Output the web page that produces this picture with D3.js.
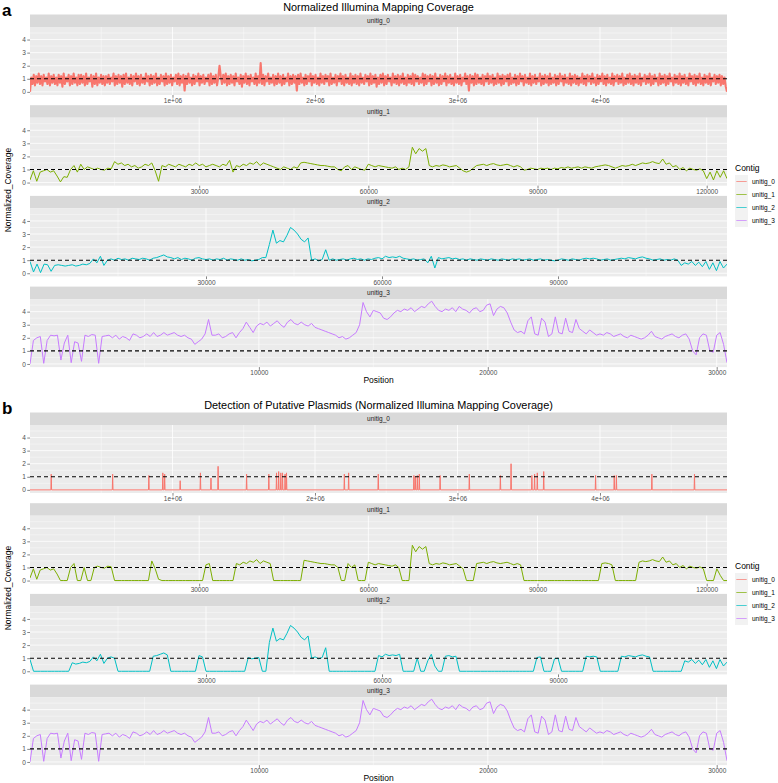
<!DOCTYPE html>
<html><head><meta charset="utf-8">
<script src="https://cdn.jsdelivr.net/npm/d3@7"></script>
<style>body{margin:0;background:#fff} svg{display:block} text{font-family:"Liberation Sans",Arial,Helvetica,sans-serif}</style>
</head><body><svg id="chart" width="778" height="783"></svg>
<script>
// ---------------- DATA ----------------
const contigs = ["unitig_0", "unitig_1", "unitig_2", "unitig_3"];
const contigColors = ["#F8766D", "#7CAE00", "#00BFC4", "#C77CFF"];
const yTicks = [0, 1, 2, 3, 4];
const referenceLevel = 1;

// unitig_0: normalized coverage in 8.75 kb windows
const unitig0Window = 8750;
const unitig0Coverage = [
0.0,1.1,0.6,1.3,0.5,1.2,0.7,1.4,0.6,1.2,0.5,1.3,0.8,1.1,0.6,1.4,0.5,1.2,0.7,1.3,
0.6,1.1,0.5,1.3,0.7,1.2,0.4,1.4,0.6,1.1,0.8,1.3,0.5,1.2,0.6,1.4,0.7,1.1,0.5,1.3,
0.6,1.3,0.7,1.2,0.5,1.4,0.6,1.1,0.8,1.3,0.4,1.2,0.6,1.4,0.5,1.1,0.7,1.3,0.6,1.2,
0.5,1.2,0.7,1.3,0.6,1.1,0.8,1.4,0.5,1.2,0.6,1.3,0.7,1.2,0.4,1.3,0.6,1.4,0.7,1.1,
0.6,1.3,0.5,1.2,0.8,1.4,0.6,1.2,0.5,1.3,0.7,1.1,0.6,1.4,0.8,1.2,0.5,1.3,0.6,1.2,
0.7,1.4,0.5,1.1,0.6,1.3,0.8,1.2,0.5,1.4,0.6,1.2,0.7,1.3,0.5,1.1,0.8,1.3,0.6,1.4,
0.5,1.2,0.7,1.3,0.1,1.2,0.6,1.4,0.7,1.1,0.5,1.3,0.6,1.2,0.8,1.4,0.5,1.2,0.7,1.3,
0.6,1.1,0.8,1.3,0.5,1.4,0.6,1.2,0.7,1.3,0.5,1.1,2.0,1.2,0.6,1.3,0.7,1.4,0.5,1.2,
0.6,1.3,0.7,1.2,0.5,1.4,0.8,1.1,0.6,1.3,0.4,1.2,0.7,1.4,0.6,1.2,0.5,1.3,0.8,1.1,
0.6,1.4,0.5,1.2,0.7,2.2,0.6,1.3,0.5,1.2,0.8,1.4,0.6,1.1,0.7,1.3,0.5,1.2,0.6,1.4,
0.7,1.2,0.5,1.3,0.6,1.1,0.8,1.4,0.5,1.2,0.6,1.3,0.7,1.2,0.1,1.3,0.6,1.4,0.7,1.1,
0.5,1.3,0.6,1.2,0.8,1.4,0.5,1.2,0.7,1.3,0.6,1.1,0.5,1.4,0.7,1.2,0.6,1.3,0.8,1.2,
0.5,1.4,0.6,1.1,0.7,1.3,0.5,1.2,0.8,1.4,0.6,1.2,0.5,1.3,0.7,1.1,0.6,1.4,0.5,1.2,
0.7,1.3,0.6,1.2,0.5,1.4,0.7,1.1,0.6,1.3,0.8,1.2,0.5,1.4,0.6,1.2,0.7,1.3,0.4,1.1,
0.6,1.3,0.7,1.4,0.5,1.2,0.6,1.3,0.8,1.1,0.5,1.4,0.7,1.2,0.6,1.3,0.5,1.2,0.7,1.4,
0.6,1.1,0.5,1.3,0.7,1.2,0.6,1.4,0.5,1.3,0.8,1.2,0.6,1.1,0.7,1.4,0.5,1.3,0.6,1.2,
0.8,1.3,0.5,1.2,0.6,1.4,0.7,1.1,0.5,1.3,0.6,1.2,0.8,1.4,0.5,1.2,0.7,1.3,0.6,1.1,
0.5,1.4,0.7,1.2,0.6,1.3,0.5,1.1,0.8,1.4,0.6,1.2,0.1,1.3,0.7,1.2,0.5,1.4,0.6,1.3,
0.7,1.1,0.6,1.3,0.5,1.2,0.8,1.4,0.6,1.2,0.7,1.3,0.5,1.1,0.6,1.4,0.7,1.2,0.5,1.3,
0.6,1.2,0.8,1.3,0.5,1.4,0.6,1.1,0.7,1.3,0.5,1.2,0.6,1.4,0.8,1.2,0.5,1.3,0.7,1.1,
0.6,1.4,0.5,1.2,0.7,1.3,0.6,1.1,0.8,1.4,0.5,1.2,0.6,1.3,0.7,1.2,0.5,1.4,0.6,1.1,
0.7,1.3,0.5,1.2,0.6,1.4,0.8,1.2,0.5,1.3,0.7,1.1,0.6,1.4,0.5,1.2,0.7,1.3,0.6,1.2,
0.5,1.1,0.7,1.4,0.6,1.2,0.5,1.3,0.8,1.2,0.6,1.4,0.7,1.1,0.5,1.3,0.6,1.2,0.8,1.4,
0.6,1.2,0.5,1.3,0.7,1.1,0.6,1.4,0.5,1.2,0.8,1.3,0.6,1.2,0.7,1.4,0.5,1.1,0.6,1.3,
0.7,1.4,0.6,1.2,0.5,1.3,0.7,1.2,0.6,1.4,0.5,1.1,0.8,1.3,0.6,1.2,0.7,1.4,0.5,1.2,
0.6,1.3,0.8,1.1,0.5,1.4,0.6,1.2,0.7,1.3,0.5,1.2,0.6,1.4,0.8,1.1,0.5,1.3,0.7,1.2,
0.6,1.4,0.5,1.2,0.7,1.3,0.6,1.1,0.5,1.4,0.8,1.2,0.6,1.3,0.5,1.2,0.7,1.4,0.6,1.1,
0.5,1.3,0.7,1.2,0.6,1.4,0.5,1.1,0.8,1.3,0.6,1.2,0.7,1.3,0.5,1.2,0.6,1.1,0.4,0.0
];

// unitig_1: normalized coverage in 600 bp windows
const unitig1Window = 600;
const unitig1Coverage = [
0.2,0.9,0.1,0.8,0.9,1.0,0.8,0.9,0.5,0.05,
0.45,0.4,1.0,1.3,0.8,1.4,1.0,1.2,1.1,1.0,
1.1,1.0,0.95,1.1,1.05,1.6,1.4,1.5,1.3,1.4,
1.2,1.3,1.1,1.2,1.4,1.3,1.5,0.9,0.1,1.3,
1.2,1.4,1.3,1.2,1.4,1.3,1.2,1.4,1.3,1.5,
1.3,1.4,1.2,1.3,1.4,1.3,1.2,1.4,1.3,1.7,
0.8,1.3,1.2,1.4,1.3,1.5,1.4,1.6,1.3,1.5,
1.4,1.3,1.2,1.1,1.0,1.2,1.1,1.0,1.2,1.1,
1.5,1.55,1.5,1.45,1.4,1.35,1.3,1.3,1.25,1.2,
1.2,1.0,0.9,1.2,1.3,1.0,1.2,1.1,1.0,0.95,
1.4,1.3,1.2,1.3,1.25,1.2,1.15,1.1,1.2,1.0,
1.1,1.0,1.2,2.7,2.2,2.6,2.4,2.6,1.3,1.2,
1.3,1.25,1.35,1.3,1.2,1.25,1.3,1.1,0.9,0.8,
0.9,1.1,1.3,1.35,1.4,1.3,1.4,1.45,1.35,1.3,
1.35,1.4,1.3,1.2,1.3,1.2,0.95,1.0,1.1,1.05,
1.0,1.1,1.05,1.1,1.0,1.1,1.05,1.15,1.1,1.2,
1.1,1.15,1.2,1.1,1.2,1.15,1.1,1.2,1.25,1.3,
1.35,1.3,1.2,1.1,1.2,1.3,1.25,1.3,1.4,1.3,
1.4,1.5,1.45,1.5,1.6,1.5,1.45,1.8,1.4,1.5,
1.2,1.3,1.0,1.15,0.9,1.1,1.0,0.95,1.05,0.9,
0.3,0.8,0.2,0.9,0.4,0.9,0.3
];

// unitig_2: normalized coverage in 600 bp windows
const unitig2Window = 600;
const unitig2Coverage = [
0.9,0.1,0.7,0.05,0.7,0.65,0.15,0.6,0.65,0.6,
0.55,0.6,0.65,0.55,0.6,0.7,0.65,0.75,1.1,0.8,
1.3,0.6,1.0,1.1,1.0,1.15,1.05,1.1,1.0,1.15,
1.1,1.05,1.15,1.1,1.0,1.15,1.2,1.3,1.4,1.25,
1.2,1.1,1.2,1.05,1.15,1.1,1.0,1.15,1.2,1.1,
1.05,1.1,1.0,1.1,1.05,1.15,1.0,1.1,1.05,1.0,
1.1,1.0,1.05,0.95,1.0,1.05,1.2,1.2,2.2,3.3,
2.3,2.5,2.4,2.9,3.5,3.3,3.0,2.6,2.4,2.7,
1.0,1.1,0.95,1.05,1.8,1.0,1.1,1.0,1.05,1.1,
1.0,1.1,1.15,1.05,1.1,1.0,1.1,1.05,1.15,1.2,
1.1,1.3,1.2,1.25,1.2,1.3,1.15,1.1,1.05,1.1,
1.0,1.05,1.1,0.8,1.3,0.4,1.2,1.1,1.15,1.2,
1.1,1.15,1.05,1.1,1.0,1.1,1.05,1.0,1.1,1.05,
1.0,1.1,1.05,1.0,1.1,1.05,1.0,1.1,1.05,1.1,
1.0,1.05,1.1,1.0,1.05,1.1,1.0,1.05,1.0,0.95,
1.0,1.1,1.05,1.0,1.1,1.05,1.0,1.1,1.15,1.1,
1.15,1.1,1.0,1.05,1.1,1.0,1.05,1.1,1.15,1.1,
1.2,1.15,1.1,1.2,1.25,1.15,1.1,1.0,1.05,1.1,
1.0,1.05,1.0,1.1,1.0,0.6,0.8,0.7,0.9,0.6,
0.85,0.5,0.9,0.3,0.8,0.2,0.9,0.4,0.7
];

// unitig_3: normalized coverage in 150 bp windows
const unitig3Window = 150;
const unitig3Coverage = [
0,1.8,2.0,2.1,0.05,1.8,2.2,2.15,2.2,0.3,
1.6,2.2,0.1,1.7,1.6,0.2,2.2,2.1,2.25,2.2,
0.05,2.1,2.15,2.2,2.0,2.2,1.9,2.1,2.0,1.8,
2.3,2.2,2.0,2.1,2.3,2.1,2.4,2.1,2.2,2.4,
2.2,2.3,2.4,2.2,2.1,2.2,2.0,1.9,1.5,1.7,
1.9,2.3,3.4,2.2,2.2,2.3,2.0,2.1,2.3,2.4,
2.0,2.4,2.7,3.2,2.8,2.4,2.9,3.1,3.0,3.2,
2.9,3.1,3.3,3.0,2.8,3.2,3.4,3.1,3.0,3.2,
3.0,2.9,3.1,2.8,2.7,2.6,2.5,2.4,2.3,2.2,
2.0,2.1,1.9,2.0,2.2,2.4,3.0,4.7,4.0,3.6,
4.1,4.0,3.9,3.5,3.4,3.6,3.9,4.1,4.0,4.2,
4.1,4.3,4.0,4.2,4.4,4.3,4.6,4.8,4.4,4.1,
4.0,4.2,4.1,4.3,4.0,4.4,4.2,4.1,3.9,4.2,
4.3,4.0,4.1,4.5,4.6,3.7,4.2,4.4,4.3,3.9,
3.2,2.6,2.4,2.5,2.3,3.3,3.6,2.3,2.2,3.5,
3.2,2.1,2.3,3.6,2.4,2.3,3.5,2.5,2.4,3.4,
2.7,2.5,2.3,2.6,2.4,2.2,2.3,2.2,2.4,2.3,
2.1,2.2,2.3,2.1,2.0,2.2,2.1,2.0,1.9,2.0,
2.2,2.5,2.1,2.0,1.9,2.1,2.2,2.3,2.1,2.0,
2.2,2.3,1.9,1.0,0.7,2.0,2.3,2.2,1.0,0.9,
2.2,2.4,1.5,0.1
];

// Panel b: putative plasmid detection
// unitig_0 retained windows: [position (bp), normalized coverage]
const plasmidUnitig0Peaks = [
[149000,1.2],[580000,1.2],[834000,1.1],[932000,1.3],[945000,1.2],[1054000,0.7],
[1196000,1.3],[1270000,0.9],[1320000,1.8],[1520000,1.2],[1676000,1.2],[1730000,1.3],
[1745000,1.4],[1760000,1.3],[1772000,1.3],[1790000,1.2],[1800000,1.3],[2206000,1.2],
[2236000,1.3],[2444000,1.2],[2694000,1.1],[2704000,1.0],[2718000,1.1],[2732000,1.2],
[2878000,1.1],[3083000,1.2],[3301000,1.1],[3376000,2.0],[3522000,1.1],[3541000,1.2],
[3560000,1.3],[3605000,1.4],[3969000,1.1],[4100000,1.1],[4115000,1.1],[4364000,1.2],
[4663000,1.2]
];
// unitig_1 / unitig_2 retained intervals (bp); elsewhere coverage set to 0
const plasmidUnitig1Kept = [
[0,5300],[6800,8100],[9200,9700],[10900,14700],[21300,23200],[30900,31800],
[36400,42900],[48100,54700],[55900,57600],[60000,65400],[67300,77200],
[78900,87500],[101000,103400],[107800,119800],[121300,122400]
];
const plasmidUnitig2Kept = [
[0,500],[6700,14500],[20900,23400],[28800,29800],[37200,39300],[40400,50700],
[59400,63500],[66000,66400],[67800,69500],[70400,72800],[86300,87100],
[89100,90000],[94400,96800],[100400,105600],[111300,118800]
];

const xTickValues = [
  [1e6, 2e6, 3e6, 4e6],
  [30000, 60000, 90000, 120000],
  [30000, 60000, 90000],
  [10000, 20000, 30000]
];
const xTickLabels = [
  ["1e+06", "2e+06", "3e+06", "4e+06"],
  ["30000", "60000", "90000", "120000"],
  ["30000", "60000", "90000"],
  ["10000", "20000", "30000"]
];

// ---------------- BUILD ----------------
function windowed(cov, win) { return cov.map((v, i) => ({x: i * win, y: v})); }
function masked(pts, kept) {
  return pts.map(p => ({x: p.x, y: kept.some(([a, b]) => p.x >= a && p.x <= b) ? p.y : 0}));
}
function peakSeries(len, list, halfWin) {
  const pts = [{x: 0, y: 0}];
  list.forEach(([p, h]) => { pts.push({x: p - halfWin, y: 0}, {x: p, y: h}, {x: p + halfWin, y: 0}); });
  pts.push({x: len, y: 0});
  return pts;
}
const s0 = windowed(unitig0Coverage, unitig0Window);
const s1 = windowed(unitig1Coverage, unitig1Window);
const s2 = windowed(unitig2Coverage, unitig2Window);
const s3 = windowed(unitig3Coverage, unitig3Window);
const lens = [s0, s1, s2, s3].map(s => s[s.length - 1].x);

const panelA = [s0, s1, s2, s3];
const panelB = [
  peakSeries(lens[0], plasmidUnitig0Peaks, 2500),
  masked(s1, plasmidUnitig1Kept),
  masked(s2, plasmidUnitig2Kept),
  s3
];
const strokeWidths = [[2.1, 1, 1, 1], [1, 1, 1, 1]];

const svg = d3.select("#chart");
const PL = 30, PR = 727;
const STRIP_H = 12.5, PANEL_H = 68, FACET_STEP = 90.7, FIRST_STRIP = 14.5;
let clipId = 0;

function drawBlock(oy, tag, title, series, widths) {
  const g = svg.append("g").attr("transform", `translate(0,${oy})`);
  g.append("text").attr("x", 2).attr("y", 15.5).attr("font-size", 17).attr("font-weight", "bold").text(tag);
  g.append("text").attr("x", (PL + PR) / 2).attr("y", 11).attr("text-anchor", "middle")
    .attr("font-size", 10.9).attr("fill", "#000").text(title);

  series.forEach((pts, i) => {
    const st = FIRST_STRIP + FACET_STEP * i;
    const pt = st + STRIP_H, pb = pt + PANEL_H;
    const x = d3.scaleLinear().domain([0, lens[i]]).range([PL, PR]);
    const y = d3.scaleLinear().domain([-0.24, 4.96]).range([pb, pt]);

    g.append("rect").attr("x", PL).attr("y", st).attr("width", PR - PL).attr("height", STRIP_H).attr("fill", "#D9D9D9");
    g.append("text").attr("x", (PL + PR) / 2).attr("y", st + STRIP_H / 2 + 2.3).attr("text-anchor", "middle")
      .attr("font-size", 6.5).attr("fill", "#1A1A1A").text(contigs[i]);

    g.append("rect").attr("x", PL).attr("y", pt).attr("width", PR - PL).attr("height", PANEL_H).attr("fill", "#EBEBEB");

    // grid
    const yMinor = [0.5, 1.5, 2.5, 3.5, 4.5];
    g.append("g").selectAll("line").data(yMinor).join("line")
      .attr("x1", PL).attr("x2", PR).attr("y1", d => y(d)).attr("y2", d => y(d))
      .attr("stroke", "#fff").attr("stroke-width", 0.4);
    const majors = xTickValues[i];
    const step = majors[1] - majors[0];
    const xMinor = [];
    for (let v = step / 2; v < lens[i]; v += step) xMinor.push(v);
    g.append("g").selectAll("line").data(xMinor).join("line")
      .attr("y1", pt).attr("y2", pb).attr("x1", d => x(d)).attr("x2", d => x(d))
      .attr("stroke", "#fff").attr("stroke-width", 0.4);
    g.append("g").selectAll("line").data(yTicks).join("line")
      .attr("x1", PL).attr("x2", PR).attr("y1", d => y(d)).attr("y2", d => y(d))
      .attr("stroke", "#fff").attr("stroke-width", 0.8);
    g.append("g").selectAll("line").data(majors).join("line")
      .attr("y1", pt).attr("y2", pb).attr("x1", d => x(d)).attr("x2", d => x(d))
      .attr("stroke", "#fff").attr("stroke-width", 0.8);

    const cid = "clip" + (clipId++);
    g.append("clipPath").attr("id", cid).append("rect")
      .attr("x", PL).attr("y", pt).attr("width", PR - PL).attr("height", PANEL_H);

    const line = d3.line().x(d => x(d.x)).y(d => y(d.y));
    g.append("path").datum(pts).attr("d", line).attr("fill", "none")
      .attr("stroke", contigColors[i]).attr("stroke-width", widths[i]).attr("stroke-linejoin", "round")
      .attr("clip-path", `url(#${cid})`);

    g.append("line").attr("x1", PL).attr("x2", PR).attr("y1", y(referenceLevel)).attr("y2", y(referenceLevel))
      .attr("stroke", "#000").attr("stroke-width", 1.1).attr("stroke-dasharray", "4,3");

    // axes
    const ya = g.append("g").attr("transform", `translate(${PL},0)`)
      .call(d3.axisLeft(y).tickValues(yTicks).tickSize(2.75).tickPadding(1.5).tickFormat(d3.format("d")));
    const xa = g.append("g").attr("transform", `translate(0,${pb})`)
      .call(d3.axisBottom(x).tickValues(majors).tickSize(2.75).tickPadding(1)
        .tickFormat((d, k) => xTickLabels[i][k]));
    [ya, xa].forEach(a => {
      a.select(".domain").remove();
      a.selectAll(".tick line").attr("stroke", "#333").attr("stroke-width", 0.6);
      a.selectAll(".tick text").attr("fill", "#4D4D4D").attr("font-size", 6.5)
        .attr("font-family", '"Liberation Sans",Arial,sans-serif');
    });
  });

  g.append("text").attr("x", (PL + PR) / 2).attr("y", 383).attr("text-anchor", "middle")
    .attr("font-size", 8.5).text("Position");
  g.append("text").attr("transform", "translate(11,190) rotate(-90)").attr("text-anchor", "middle")
    .attr("font-size", 8.5).text("Normalized_Coverage");

  // legend
  const lg = g.append("g");
  lg.append("text").attr("x", 735).attr("y", 171).attr("font-size", 8.5).text("Contig");
  contigs.forEach((c, k) => {
    const ky = 175 + 13 * k;
    lg.append("rect").attr("x", 735).attr("y", ky).attr("width", 13).attr("height", 13).attr("fill", "#F2F2F2");
    lg.append("line").attr("x1", 736.3).attr("x2", 746.7).attr("y1", ky + 6.5).attr("y2", ky + 6.5)
      .attr("stroke", contigColors[k]).attr("stroke-width", 1).attr("stroke-opacity", 0.7);
    lg.append("text").attr("x", 752).attr("y", ky + 6.5 + 2.3).attr("font-size", 6.5).attr("fill", "#000").text(c);
  });
}

drawBlock(0, "a", "Normalized Illumina Mapping Coverage", panelA, strokeWidths[0]);
drawBlock(398, "b", "Detection of Putative Plasmids (Normalized Illumina Mapping Coverage)", panelB, strokeWidths[1]);
</script></body></html>
